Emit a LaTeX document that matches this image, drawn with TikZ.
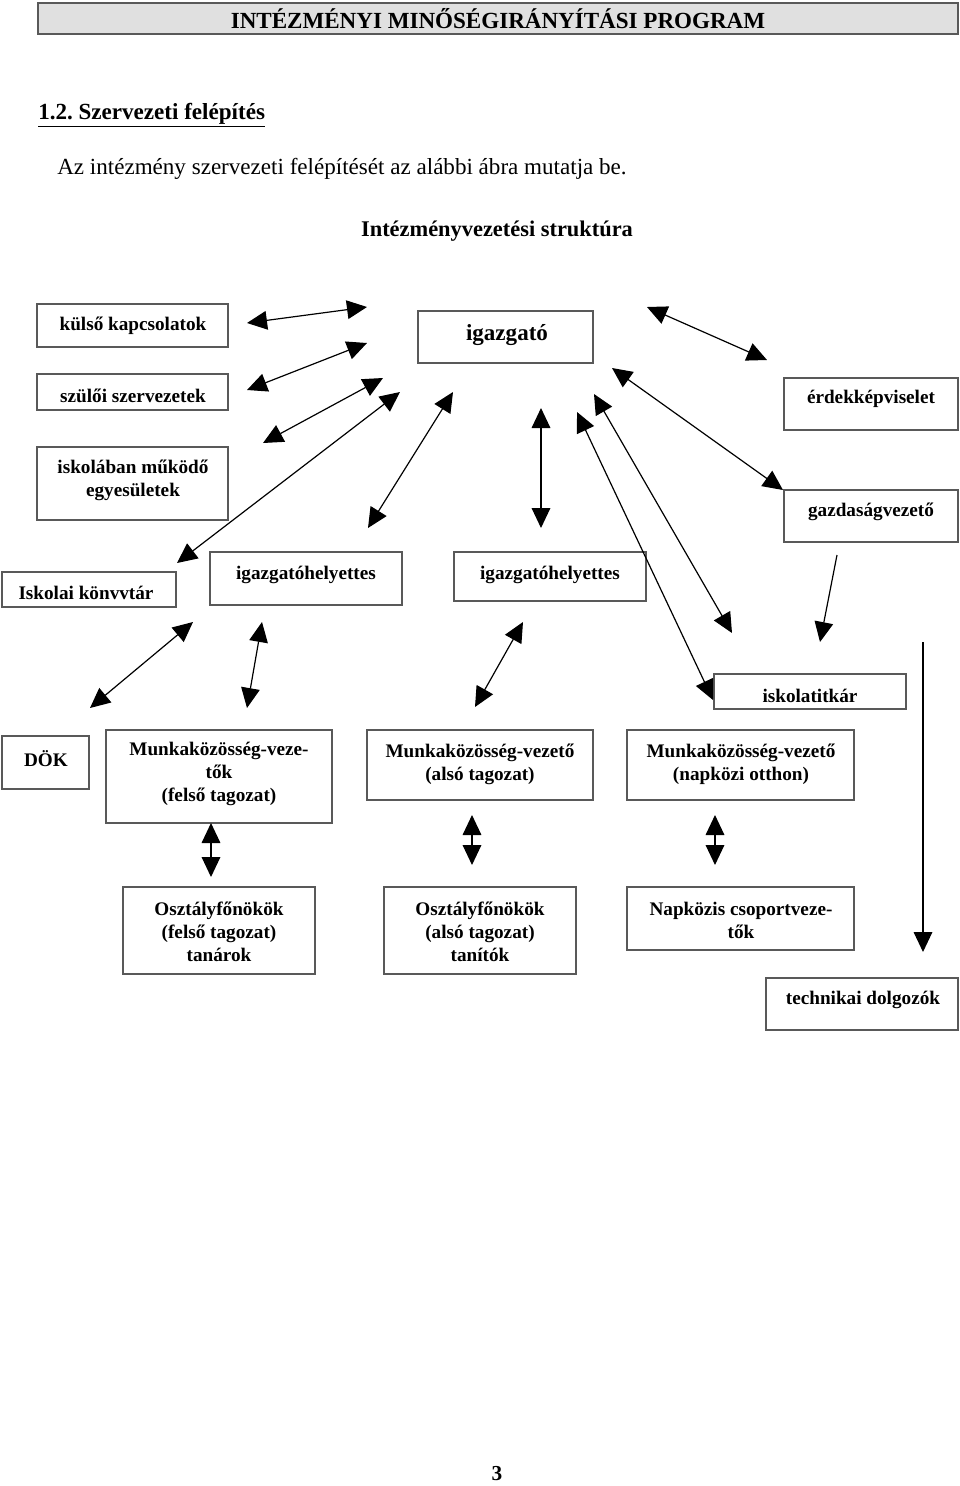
\documentclass[tikz,border=0pt]{standalone}
\usepackage{fontspec}
\setmainfont{Liberation Serif}
\usetikzlibrary{arrows.meta}
\frenchspacing

\newcommand\dobozbetu{\fontsize{14.4}{17.25}\selectfont\bfseries}
\newcommand\nagybetu{\fontsize{17.3}{20.8}\selectfont}

\begin{document}
\begin{tikzpicture}[x=0.75pt,y=-0.75pt,
	doboz/.style 2 args={draw=black!65, line width=0.9pt, minimum width=#1*0.75pt, minimum height=#2*0.75pt, inner sep=0pt},
	felirat/.style={font=\dobozbetu, align=center, inner sep=0pt},
	kettos/.style={line width=0.9pt, {Triangle[length=15pt,width=14pt]}-{Triangle[length=15pt,width=14pt]}},
	nyil/.style={line width=0.9pt, -{Triangle[length=15pt,width=14pt]}}]
\useasboundingbox (0,0) rectangle (960,1486);

% fejlec
\node[doboz={920}{31}, fill=black!12, font=\nagybetu\bfseries] (cim) at (498,18.5) {INTÉZMÉNYI MINŐSÉGIRÁNYÍTÁSI PROGRAM};
\node[anchor=west, inner sep=0pt, font=\nagybetu\bfseries] (fejezet) at (38,115) {\underline{1.2. Szervezeti felépítés}};
\node[anchor=west, inner sep=0pt, font=\nagybetu] (bevezeto) at (57,169) {Az intézmény szervezeti felépítését az alábbi ábra mutatja be.};
\node[inner sep=0pt, font=\fontsize{16.8}{20}\selectfont\bfseries] (struktura) at (497,231) {Intézményvezetési struktúra};

% dobozok
\foreach \nev/\x/\y/\w/\h in {kulso/132.5/325.5/191/43, igazgato/505.5/337/175/52,
	szuloi/132.5/392/191/36, erdek/871/404/174/52, egyesulet/132.5/483.5/191/73,
	gazdasag/871/516/174/52, konyvtar/89/589.5/174/35, helyettes1/306/578.5/192/53,
	helyettes2/550/576.5/192/49, titkar/810/691.5/192/35, dok/45.5/762.5/87/53,
	mkfelso/219/776.5/226/93, mkalso/480/765/226/70, mknapkozi/740.5/765/227/70,
	ofofelso/219/930.5/192/87, ofoalso/480/930.5/192/87, napkozis/740.5/918.5/227/63,
	technikai/862/1004/192/52}
{
	\node[doboz={\w}{\h}] (\nev) at (\x,\y) {};
}

% feliratok
\node[felirat, font=\nagybetu\bfseries] (t-igazgato) at (507,335) {igazgató};
\foreach \nev/\x/\y/\szoveg in {kulso/133/326/{külső kapcsolatok},
	szuloi/133/396/{szülői szervezetek}, erdek/871/399/{érdekképviselet},
	egyesulet/133/480/{iskolában működő\\egyesületek}, gazdasag/871/512/{gazdaságvezető},
	konyvtar/86/593/{Iskolai könvvtár}, helyettes1/306/575/{igazgatóhelyettes},
	helyettes2/550/575/{igazgatóhelyettes}, titkar/810/696/{iskolatitkár},
	dok/46/759/{DÖK}, mkfelso/219/774/{Munkaközösség-veze-\\tők\\(felső tagozat)},
	mkalso/480/764/{Munkaközösség-vezető\\(alsó tagozat)},
	mknapkozi/741/764/{Munkaközösség-vezető\\(napközi otthon)},
	ofofelso/219/932/{Osztályfőnökök\\(felső tagozat)\\tanárok},
	ofoalso/480/932/{Osztályfőnökök\\(alsó tagozat)\\tanítók},
	napkozis/741/920/{Napközis csoportveze-\\tők}, technikai/863/1000/{technikai dolgozók}}
{
	\node[felirat] (t-\nev) at (\x,\y) {\szoveg};
}

% nyilak
\foreach \n/\xa/\ya/\xb/\yb in {1/247/323/367/307, 2/247/390/367/343, 3/263/443/383/378,
	4/177/563/400/392, 5/368/528/453/392, 6/541/528/541/408, 7/713/700/577/412,
	8/732/633/594/394, 9/783/490/612/368, 10/767/360/647/307, 11/90/708/193/622,
	12/247/708/262/622, 13/475/707/523/622, 14/211/877/211/823, 15/472/865/472/815,
	16/715/865/715/815}
{
	\coordinate (p\n) at (\xa,\ya);
	\coordinate (q\n) at (\xb,\yb);
	\draw[kettos] (p\n) -- (q\n);
}
\coordinate (gazd-ki) at (837,555);
\coordinate (titkar-be) at (820,642);
\coordinate (tech-ki) at (923,642);
\coordinate (tech-be) at (923,952);
\draw[nyil] (gazd-ki) -- (titkar-be);
\draw[nyil] (tech-ki) -- (tech-be);

\node[inner sep=0pt, font=\fontsize{16}{19}\selectfont\bfseries] (oldal) at (497,1474) {3};
\end{tikzpicture}
\end{document}
